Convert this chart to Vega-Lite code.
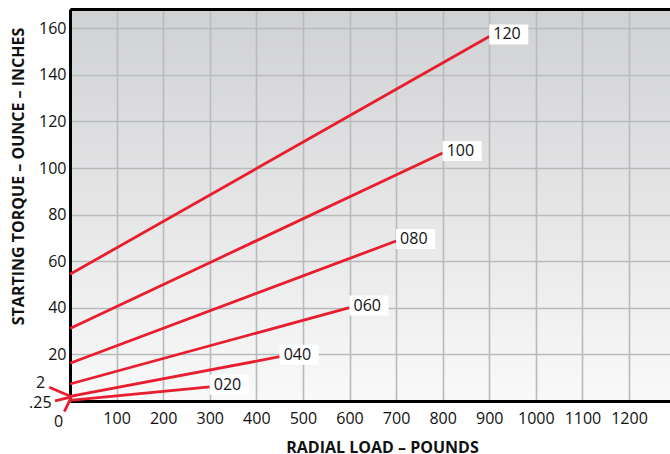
{
  "$schema": "https://vega.github.io/schema/vega-lite/v6.json",
  "autosize": {"type": "none"},
  "padding": {"left": 70, "top": 9, "right": 0, "bottom": 53},
  "width": 600,
  "height": 392,
  "background": "#ffffff",
  "config": {
    "view": {
      "stroke": null,
      "fill": {
        "gradient": "linear",
        "x1": 0, "y1": 0, "x2": 0, "y2": 1,
        "stops": [
          {"offset": 0, "color": "#d0d1d3"},
          {"offset": 1, "color": "#f9f9f9"}
        ]
      }
    },
    "axis": {
      "domainColor": "#000000",
      "domainWidth": 3,
      "ticks": false,
      "labelFont": "Open Sans",
      "labelFontSize": 16,
      "labelColor": "#111111",
      "gridColor": "#b9babb",
      "gridWidth": 1.6,
      "titleFont": "Open Sans",
      "titleFontSize": 16,
      "titleFontWeight": "bold",
      "titleColor": "#111111"
    }
  },
  "datasets": {
    "series": [
      {"series": "020", "load": 0, "torque": 0.25},
      {"series": "020", "load": 300, "torque": 6.1},
      {"series": "040", "load": 0, "torque": 2},
      {"series": "040", "load": 450, "torque": 19},
      {"series": "060", "load": 0, "torque": 7.3},
      {"series": "060", "load": 600, "torque": 40.1},
      {"series": "080", "load": 0, "torque": 16.2},
      {"series": "080", "load": 700, "torque": 68.7},
      {"series": "100", "load": 0, "torque": 31.1},
      {"series": "100", "load": 800, "torque": 106.5},
      {"series": "120", "load": 0, "torque": 54.4},
      {"series": "120", "load": 900, "torque": 156.5}
    ],
    "leaders": [
      {"label": "2", "lx": -44.4, "ly": 5.9, "tx": -63.3, "ty": 7.7},
      {"label": ".25", "lx": -32.2, "ly": 0.1, "tx": -63.7, "ty": -1.0},
      {"label": "0", "lx": -12.2, "ly": -4.6, "tx": -24.3, "ty": -8.9}
    ]
  },
  "resolve": {"axis": {"x": "independent"}},
  "layer": [
    {
      "data": {"name": "series"},
      "mark": {"type": "line", "color": "#e81e2f", "strokeWidth": 2.8, "clip": false},
      "encoding": {
        "x": {
          "field": "load", "type": "quantitative",
          "scale": {"domain": [0, 1288], "nice": false, "zero": false},
          "axis": {
            "values": [100, 200, 300, 400, 500, 600, 700, 800, 900, 1000, 1100, 1200],
            "format": "d",
            "title": "RADIAL LOAD – POUNDS",
            "labelPadding": 9,
            "titleX": 312,
            "titleY": 46,
            "titleBaseline": "middle",
            "titleAnchor": null
          }
        },
        "y": {
          "field": "torque", "type": "quantitative",
          "scale": {"domain": [0, 168.3], "nice": false, "zero": false},
          "axis": {
            "values": [20, 40, 60, 80, 100, 120, 140, 160],
            "title": "STARTING TORQUE – OUNCE – INCHES",
            "labelPadding": 4,
            "titleX": -51.5,
            "titleY": 167,
            "titleBaseline": "middle",
            "titleAnchor": null
          }
        },
        "detail": {"field": "series"}
      }
    },
    {
      "data": {"name": "series"},
      "transform": [{"filter": "datum.load > 0"}],
      "mark": {
        "type": "point",
        "shape": "M0,-1 L3.9,-1 L3.9,1 L0,1 Z",
        "size": 400,
        "filled": true,
        "fill": "#ffffff",
        "opacity": 1,
        "strokeWidth": 0,
        "yOffset": -2
      },
      "encoding": {
        "x": {
          "field": "load", "type": "quantitative",
          "axis": {
            "orient": "top",
            "labels": false,
            "grid": false,
            "ticks": false,
            "title": null,
            "domainColor": "#000000",
            "domainWidth": 3
          }
        },
        "y": {"field": "torque", "type": "quantitative"}
      }
    },
    {
      "data": {"name": "series"},
      "transform": [{"filter": "datum.load > 0"}],
      "mark": {
        "type": "text",
        "font": "Open Sans",
        "fontSize": 16,
        "color": "#111111",
        "align": "left",
        "baseline": "middle",
        "dx": 4,
        "dy": -2
      },
      "encoding": {
        "x": {"field": "load", "type": "quantitative", "axis": null},
        "y": {"field": "torque", "type": "quantitative"},
        "text": {"field": "series"}
      }
    },
    {
      "mark": {
        "type": "point",
        "shape": "M0,0 L10.85,0 L10.85,4.83 L0,4.83 Z",
        "size": 400,
        "filled": true,
        "fill": "#ffffff",
        "opacity": 1,
        "strokeWidth": 0
      },
      "encoding": {
        "x": {"datum": 102.4, "type": "quantitative", "axis": null},
        "y": {"datum": 148.1, "type": "quantitative"}
      }
    },
    {
      "mark": {
        "type": "text",
        "font": "Open Sans",
        "fontSize": 16,
        "color": "#111111",
        "align": "left",
        "baseline": "middle",
        "lineBreak": "\n",
        "lineHeight": 21
      },
      "encoding": {
        "x": {"datum": 123.8, "type": "quantitative", "axis": null},
        "y": {"datum": 137.3, "type": "quantitative"},
        "text": {"value": "TYPE C\nALL SERIES"}
      }
    },
    {
      "data": {"name": "leaders"},
      "mark": {"type": "rule", "color": "#e81e2f", "strokeWidth": 2.8},
      "encoding": {
        "x": {"field": "lx", "type": "quantitative", "axis": null},
        "y": {"field": "ly", "type": "quantitative"},
        "x2": {"datum": 3},
        "y2": {"datum": 1.8}
      }
    },
    {
      "data": {"name": "leaders"},
      "mark": {
        "type": "text",
        "font": "Open Sans",
        "fontSize": 16,
        "color": "#111111",
        "align": "center",
        "baseline": "middle"
      },
      "encoding": {
        "x": {"field": "tx", "type": "quantitative", "axis": null},
        "y": {"field": "ty", "type": "quantitative"},
        "text": {"field": "label"}
      }
    }
  ]
}
